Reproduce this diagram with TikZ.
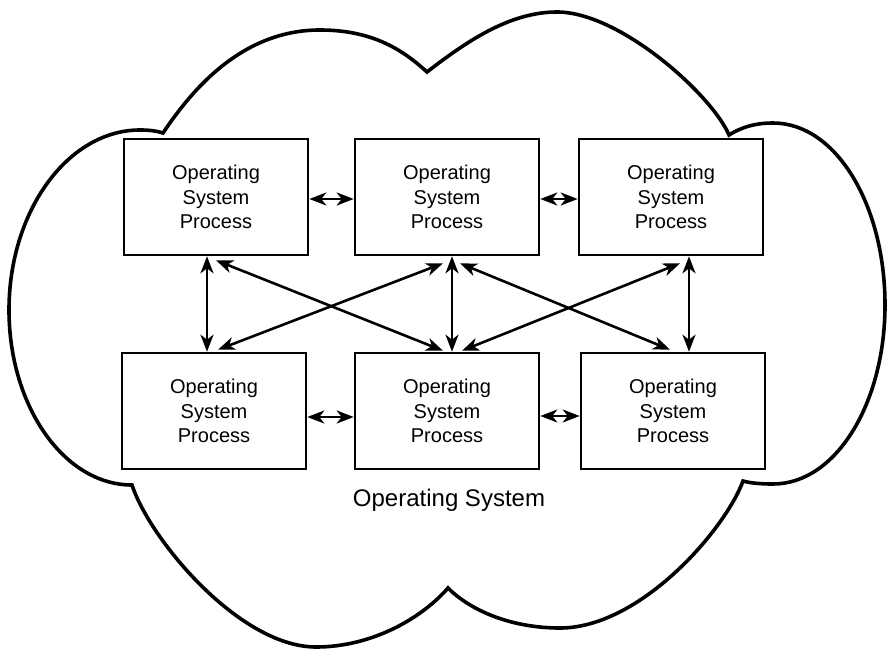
\documentclass[tikz,border=0pt]{standalone}
\usepackage{fontspec}
\setmainfont{Liberation Sans}
\usetikzlibrary{arrows.meta,calc}
\begin{document}
\begin{tikzpicture}[x=1pt,y=-1pt,
  proc/.style={draw, line width=2.6pt, minimum width=184pt, minimum height=116pt,
    inner sep=0pt, align=center, font=\fontsize{20}{24.5}\selectfont},
  tipx/.tip={Stealth[length=17pt,width=13pt,inset=5pt]},
  link/.style={line width=2.6pt, tipx-tipx},
  cloudline/.style={line width=3.6pt, line join=miter}]
\useasboundingbox[fill=white] (0,0) rectangle (888,650);

% cloud outline
\draw[cloudline]
  (163,133) .. controls (195,85) and (245,30) .. (320,30)
  .. controls (375,30) and (405,52) .. (427,72)
  .. controls (467,41) and (510,12) .. (557,12)
  .. controls (620,12) and (712,95) .. (729,135)
  .. controls (745,125) and (760,123) .. (773,123)
  .. controls (836,123) and (885,205) .. (885,305)
  .. controls (885,403) and (836,484) .. (773,484)
  .. controls (760,484) and (750,483) .. (743,481)
  .. controls (725,530) and (640,628) .. (560,628)
  .. controls (510,628) and (470,610) .. (448,588)
  .. controls (420,620) and (370,647) .. (316,647)
  .. controls (240,647) and (150,540) .. (132,485)
  .. controls (64,485) and (9,406) .. (9,310)
  .. controls (9,211) and (68,130) .. (140,130)
  .. controls (150,130) and (157,131) .. cycle;

% processes
\node[proc] (t1) at (216,197) {Operating\\System\\Process};
\node[proc] (t2) at (447,197) {Operating\\System\\Process};
\node[proc] (t3) at (671,197) {Operating\\System\\Process};
\node[proc] (b1) at (214,411) {Operating\\System\\Process};
\node[proc] (b2) at (447,411) {Operating\\System\\Process};
\node[proc] (b3) at (673,411) {Operating\\System\\Process};

\node[font=\fontsize{24}{28}\selectfont] (os) at (449,500) {Operating System};

% horizontal links
\draw[link] ($(t1.east)+(0,2)$) -- ($(t2.west)+(0,2)$);
\draw[link] ($(t2.east)+(0,2)$) -- ($(t3.west)+(0,2)$);
\draw[link] ($(b1.east)+(0,6)$) -- ($(b2.west)+(0,6)$);
\draw[link] ($(b2.east)+(0,5)$) -- ($(b3.west)+(0,5)$);

% vertical links
\draw[link] ($(t1.south)+(-9,0)$) -- ($(b1.north)+(-7,0)$);
\draw[link] ($(t2.south)+(5,0)$) -- ($(b2.north)+(5,0)$);
\draw[link] ($(t3.south)+(18,0)$) -- ($(b3.north)+(16,0)$);

% diagonal links
\draw[link] ($(t1.south)+(0,4)$) -- ($(b2.north)+(-4,-1)$);
\draw[link] ($(b1.north)+(4,-2)$) -- ($(t2.south)+(-4,7)$);
\draw[link] ($(t2.south)+(13,7)$) -- ($(b3.north)+(-3,-2)$);
\draw[link] ($(b2.north)+(15,-1)$) -- ($(t3.south)+(9,7)$);
\end{tikzpicture}
\end{document}
